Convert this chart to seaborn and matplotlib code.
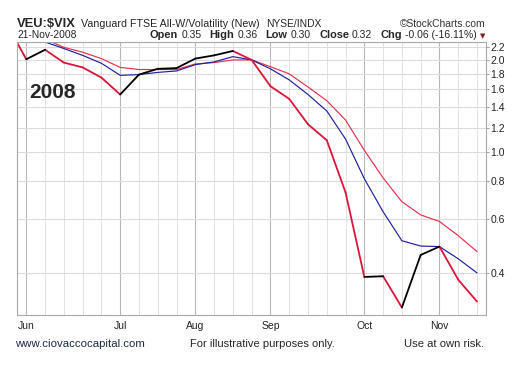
import pandas as pd
import seaborn as sns
import matplotlib.pyplot as plt
from matplotlib.ticker import FixedLocator, FormatStrFormatter, NullLocator

# weekly closes of VEU:$VIX (first point sits left of the visible window)
weeks = pd.date_range('2008-05-26', '2008-11-17', freq='W-MON')
close = [2.60, 2.01, 2.16, 1.96, 1.89, 1.75, 1.54, 1.79, 1.87, 1.88, 2.02, 2.07, 2.14,
         2.00, 1.64, 1.49, 1.23, 1.09, 0.735, 0.388, 0.39, 0.308, 0.458, 0.488, 0.380, 0.322]
ma_fast = [2.55, 2.45, 2.29, 2.18, 2.07, 1.95, 1.78, 1.79, 1.82, 1.84, 1.93, 1.97, 2.05,
           2.00, 1.87, 1.72, 1.54, 1.36, 1.10, 0.815, 0.635, 0.51, 0.49, 0.488, 0.445, 0.40]
ma_slow = [2.55, 2.45, 2.34, 2.20, 2.12, 2.02, 1.89, 1.86, 1.86, 1.86, 1.94, 1.96, 2.00,
           2.00, 1.90, 1.80, 1.63, 1.47, 1.27, 1.01, 0.82, 0.685, 0.62, 0.59, 0.53, 0.47]

month_ticks = ['2008-06-02', '2008-07-07', '2008-08-04', '2008-09-01', '2008-10-06', '2008-11-03']
month_labels = ['Jun', 'Jul', 'Aug', 'Sep', 'Oct', 'Nov']
y_ticks = [0.4, 0.6, 0.8, 1.0, 1.2, 1.4, 1.6, 1.8, 2.0, 2.2]

quote_labels = ['Open', 'High', 'Low', 'Close', 'Chg']
quote_values = ['0.35', '0.36', '0.30', '0.32', '-0.06 (-16.11%)']

sns.set_style('white')
plt.rcParams['font.family'] = ['Liberation Sans', 'DejaVu Sans']

df = pd.DataFrame({'date': weeks, 'close': close, 'fast': ma_fast, 'slow': ma_slow})

# close line: black when up on the week, red when down
rows = []
for i in range(1, len(close)):
    d = 'up' if close[i] >= close[i - 1] else 'down'
    rows.append({'seg': i, 'date': weeks[i - 1], 'v': close[i - 1], 'dir': d})
    rows.append({'seg': i, 'date': weeks[i], 'v': close[i], 'dir': d})
seg = pd.DataFrame(rows)

W, H = 520, 370
fig = plt.figure(figsize=(5.2, 3.7), dpi=100)
ax = fig.add_axes([17 / W, 1 - 315 / H, (486 - 17) / W, (315 - 42) / H])

sns.lineplot(data=df, x='date', y='slow', color='#e8304f', lw=0.85, ax=ax)
sns.lineplot(data=df, x='date', y='fast', color='#1f1f9e', lw=0.85, ax=ax)
sns.lineplot(data=seg, x='date', y='v', hue='dir', units='seg', estimator=None,
             palette={'up': 'black', 'down': '#dc143c'}, lw=1.3, legend=False, ax=ax)

ax.set_yscale('log')
ax.set_ylim(0.291, 2.29)
ax.yaxis.set_major_locator(FixedLocator(y_ticks))
ax.yaxis.set_major_formatter(FormatStrFormatter('%.1f'))
ax.yaxis.set_minor_locator(NullLocator())
ax.yaxis.tick_right()

ax.set_xlim(weeks[1] - pd.Timedelta(days=3.46), weeks[-1] + pd.Timedelta(days=3.35))
ax.set_xticks(pd.to_datetime(month_ticks))
ax.set_xticklabels(month_labels)
ax.set_xticks(weeks[1:], minor=True)

ax.grid(which='major', axis='x', color='#b8b8b8', lw=0.8)
ax.grid(which='minor', axis='x', color='#e2e2e2', lw=0.7)
ax.grid(which='major', axis='y', color='#dcdcdc', lw=0.8)
ax.set_xlabel('')
ax.set_ylabel('')
for s in ax.spines.values():
    s.set_color('#a8a8a8')
    s.set_linewidth(0.8)
ax.tick_params(axis='both', which='both', length=2.5, width=0.7, color='#999999',
               labelsize=7.5, labelcolor='#222222')
ax.tick_params(axis='y', pad=0.6)
ax.tick_params(axis='x', pad=1.5)

fig.text(29 / W, 1 - 98 / H, '2008', fontsize=15, fontweight='bold', va='baseline')


def put(x, y, s, **kw):
    return fig.text(x / W, 1 - y / H, s, va='baseline', **kw)


put(17, 27, 'VEU:$VIX', fontsize=9.3, fontweight='bold')
put(81, 27, 'Vanguard FTSE All-W/Volatility (New)', fontsize=7.7)
put(266, 27, 'NYSE/INDX', fontsize=7.4)
put(486, 27, '\u00a9StockCharts.com', fontsize=7.4, ha='right', color='#333333')

put(17, 38.5, '21-Nov-2008', fontsize=7.4)

# quote row laid out left to right, gaps stretched to span 150..477 px
renderer = fig.canvas.get_renderer()
pieces = []
for lab, val in zip(quote_labels, quote_values):
    pieces.append((lab, True))
    pieces.append((val, False))
arts = [put(0, 38.5, s, fontsize=7.9 if b else 7.5, fontweight='bold' if b else 'normal')
        for s, b in pieces]
widths = [a.get_window_extent(renderer).width for a in arts]
small, big = 1.0, 2.6
units = sum(small if i % 2 == 0 else big for i in range(len(pieces) - 1))
gap = (477 - 150 - sum(widths)) / units
x = 150.0
for i, (a, w) in enumerate(zip(arts, widths)):
    a.set_x(x / W)
    x += w + gap * (small if i % 2 == 0 else big)
put(480, 38, '\u25bc', fontsize=5, color='#8b1a2b', family=['DejaVu Sans'])

put(15, 347, 'www.ciovaccocapital.com', fontsize=8.2, color='#1c2a48')
put(190, 347, 'For illustrative purposes only.', fontsize=8.0)
put(404, 347, 'Use at own risk.', fontsize=8.1)

fig.savefig('out.png', dpi=100, facecolor='white')
